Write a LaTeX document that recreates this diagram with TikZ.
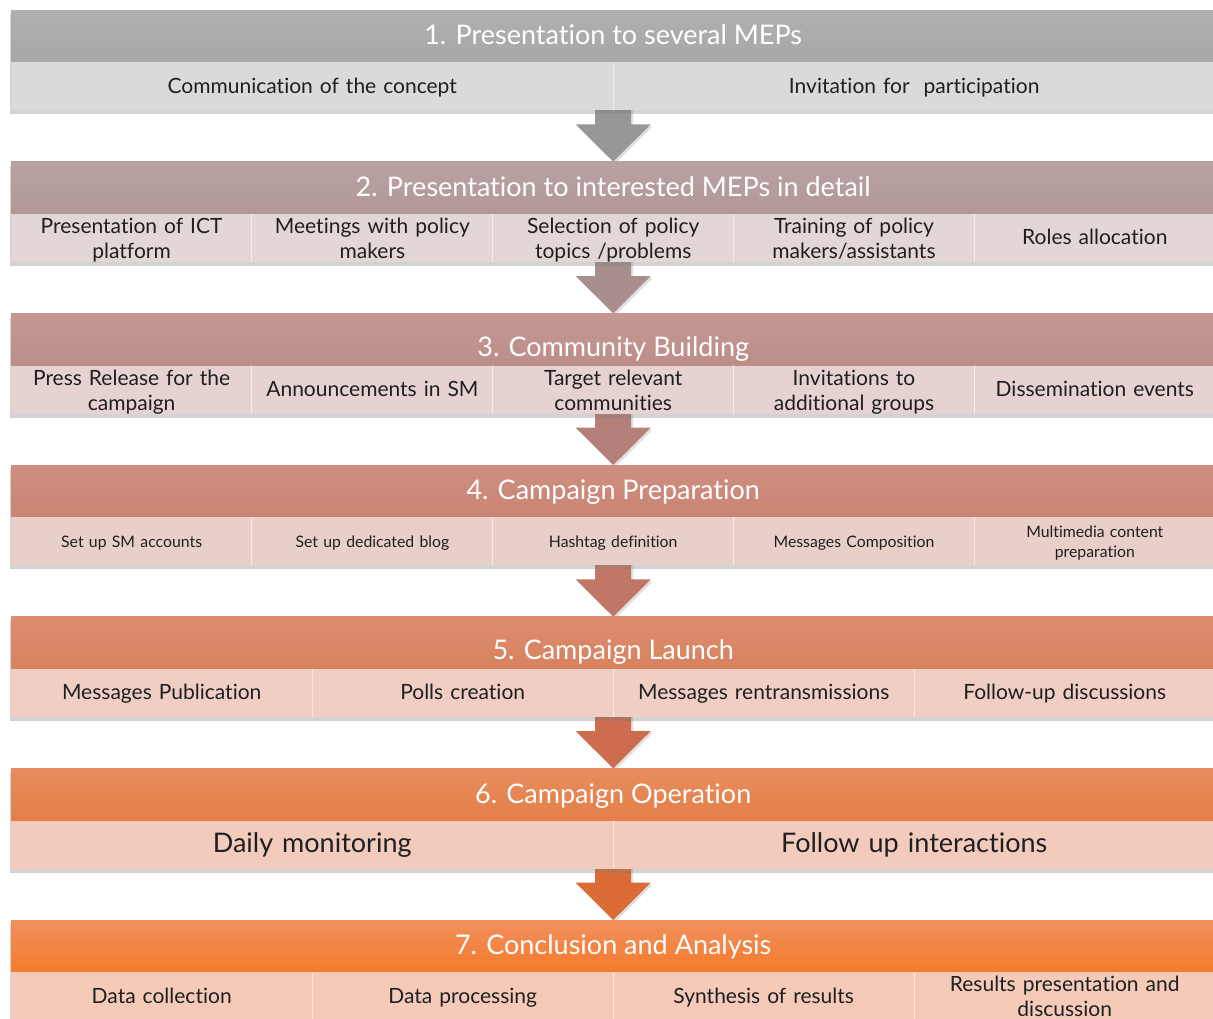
\documentclass[tikz,border=0pt]{standalone}
\usepackage{fontspec}
\setmainfont{Lato}[Ligatures={NoCommon}]
\usetikzlibrary{calc,shadows}
\pgfdeclarelayer{background}
\pgfsetlayers{background,main}

% stage colours: header top / header bottom / sub row / arrow
\definecolor{hAt}{HTML}{B0B0B0}\definecolor{hAb}{HTML}{A7A7A7}\definecolor{sA}{HTML}{DBDADA}\definecolor{aA}{HTML}{979797}
\definecolor{hBt}{HTML}{B8A2A1}\definecolor{hBb}{HTML}{B19897}\definecolor{sB}{HTML}{E3D7D6}\definecolor{aB}{HTML}{A88F8E}
\definecolor{hCt}{HTML}{C39893}\definecolor{hCb}{HTML}{BD8E89}\definecolor{sC}{HTML}{E6D3D1}\definecolor{aC}{HTML}{B6807A}
\definecolor{hDt}{HTML}{CE8F80}\definecolor{hDb}{HTML}{C98474}\definecolor{sD}{HTML}{E9CFCA}\definecolor{aD}{HTML}{C27666}
\definecolor{hEt}{HTML}{DC8D6E}\definecolor{hEb}{HTML}{D7825F}\definecolor{sE}{HTML}{F0CEC3}\definecolor{aE}{HTML}{CD6C4F}
\definecolor{hFt}{HTML}{E88D5E}\definecolor{hFb}{HTML}{E47E48}\definecolor{sF}{HTML}{F3CBBD}\definecolor{aF}{HTML}{DA6A36}
\definecolor{hGt}{HTML}{F1905E}\definecolor{hGb}{HTML}{F57A2A}\definecolor{sG}{HTML}{F5CAB8}

% one stage: panel with shadow, shaded header, coloured sub row
% #1 header options, #2 id, #3 top y, #4 colour letter, #5 title
\newcommand\stage[5][]{%
  \node[panel] (b#2) at (11,#3) {};
  \node[head, top color=h#4t, bottom color=h#4b, #1] (h#2) at (11,#3) {#5};
  \node[subrow, fill=s#4] (s#2) at (11,#3+52) {};
}
% cells of a sub row: #1 id, #2 columns, #3 cell options, #4 texts
\newcommand\cells[4]{%
  \foreach \txt [count=\i] in {#4} {
    \node[cell, #3, minimum width={1204pt/#2}, text width={1204pt/#2-10pt}]
      (c#1-\i) at ($(s#1.north west)+({1204/#2*(\i-1)},0)$) {\txt};
    \ifnum\i>1 \draw[sep] (s#1.north west -| c#1-\i.west) -- (s#1.south west -| c#1-\i.west);\fi
  }
}
% block arrow from one panel down to the next
\newcommand\flowarrow[3]{%
  \fill[#3, flow] ($(#1.south)+(-18,-2)$) -- ($(#1.south)+(18,-2)$)
    -- ($(#1.south)+(18,14)$) -- ($(#1.south)+(37.5,14)$) -- (#2.north)
    -- ($(#1.south)+(-37.5,14)$) -- ($(#1.south)+(-18,14)$) -- cycle;
}

\begin{document}
\begin{tikzpicture}[x=1pt,y=-1pt,
  panel/.style={fill=white, minimum width=1204pt, minimum height=100pt, inner sep=0pt,
    anchor=north west, drop shadow={shadow xshift=-1pt, shadow yshift=-4pt, opacity=0.35}},
  head/.style={minimum width=1204pt, minimum height=52pt, inner sep=0pt, anchor=north west,
    text=white, font=\fontsize{27}{31}\selectfont, text height=23pt, text depth=6pt},
  headlow/.style={text height=39pt},
  subrow/.style={minimum width=1204pt, minimum height=48pt, inner sep=0pt, anchor=north west},
  cell/.style={minimum height=48pt, inner sep=0pt, anchor=north west, align=center,
    text=black!88, font=\fontsize{21}{25}\selectfont, yshift=-2pt,
    execute at begin node=\strut, execute at end node=\strut},
  small/.style={font=\fontsize{15.8}{20}\selectfont},
  large/.style={font=\fontsize{27}{31}\selectfont},
  sep/.style={draw=white, line width=1pt, opacity=0.55},
  flow/.style={drop shadow={shadow xshift=2pt, shadow yshift=-2pt, opacity=0.25}},
]
\useasboundingbox (0,0) rectangle (1213,1019);
\clip (0,0) rectangle (1213,1019);

\stage{1}{10}{A}{1. Presentation to several MEPs}
\cells{1}{2}{}{Communication of the concept, Invitation for~ participation}

\stage{2}{161.67}{B}{2. Presentation to interested MEPs in detail}
\cells{2}{5}{}{Presentation of ICT\\platform, Meetings with policy\\makers,
  Selection of policy\\topics /problems, Training of policy\\makers/assistants, Roles allocation}

\stage[headlow]{3}{313.33}{C}{3. Community Building}
\cells{3}{5}{}{Press Release for the\\campaign, Announcements in SM, Target relevant\\communities,
  Invitations to\\additional groups, Dissemination events}

\stage{4}{465}{D}{4. Campaign Preparation}
\cells{4}{5}{small}{Set up SM accounts, Set up dedicated blog, Hashtag definition,
  Messages Composition, Multimedia content\\preparation}

\stage[headlow]{5}{616.67}{E}{5. Campaign Launch}
\cells{5}{4}{}{Messages Publication, Polls creation, Messages rentransmissions, Follow-up discussions}

\stage{6}{768.33}{F}{6. Campaign Operation}
\cells{6}{2}{large}{Daily monitoring, Follow up interactions}

\stage{7}{920}{G}{7. Conclusion and Analysis}
\cells{7}{4}{}{Data collection, Data processing, Synthesis of results,
  Results presentation and\\discussion}

\begin{pgfonlayer}{background}
  \flowarrow{b1}{b2}{aA}
  \flowarrow{b2}{b3}{aB}
  \flowarrow{b3}{b4}{aC}
  \flowarrow{b4}{b5}{aD}
  \flowarrow{b5}{b6}{aE}
  \flowarrow{b6}{b7}{aF}
\end{pgfonlayer}
\end{tikzpicture}
\end{document}
